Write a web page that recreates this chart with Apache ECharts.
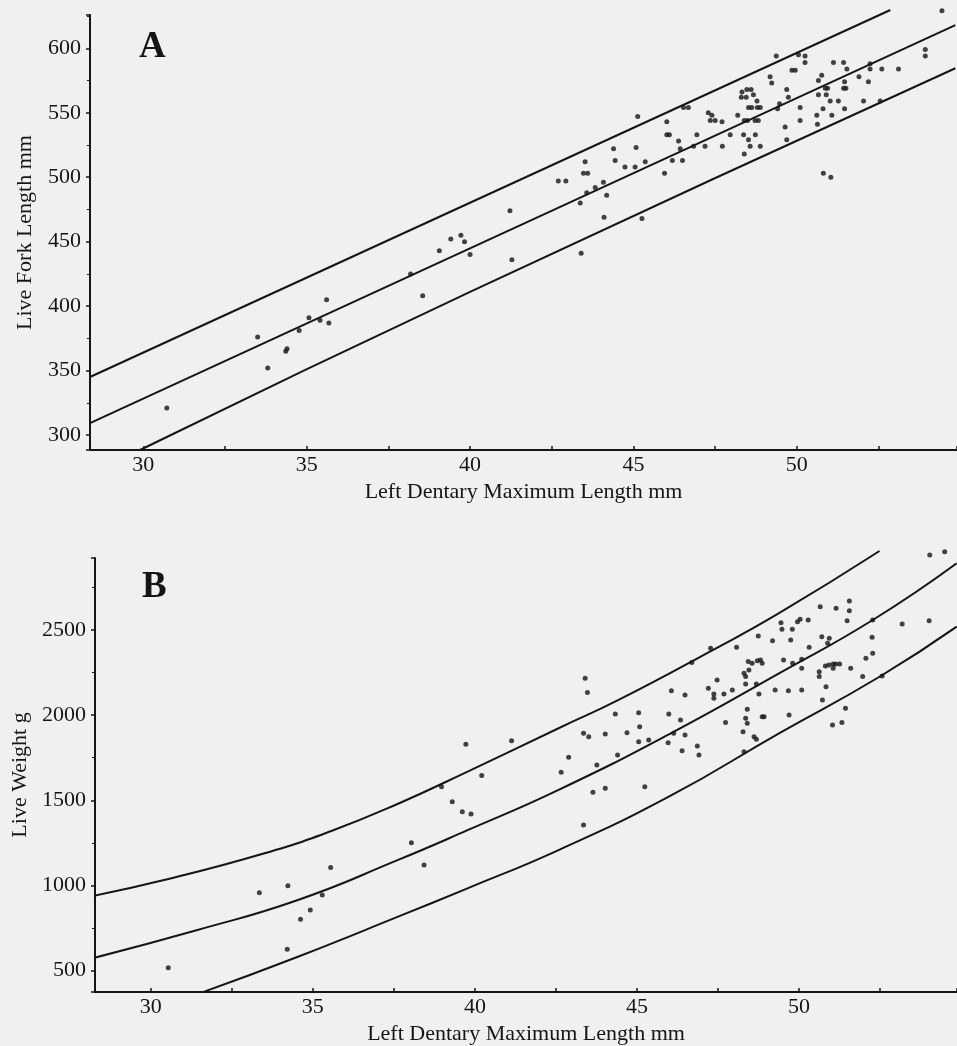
<!DOCTYPE html>
<html>
<head>
<meta charset="utf-8">
<title>Dentary length vs fork length and weight</title>
<script src="https://cdn.jsdelivr.net/npm/echarts@6/dist/echarts.min.js"></script>
<style>
    html, body { margin: 0; padding: 0; background: #eff0f0; }
    #chart { width: 957px; height: 1046px; }
</style>
</head>
<body>
<div id="chart"></div>
<script>
// panel A: dentary length (mm) vs live fork length (mm)
var lengthPoints = [
    [30.72, 321], [33.50, 376], [33.81, 352], [34.36, 365], [34.40, 367], [34.77, 381], [35.07, 391],
    [35.41, 389], [35.61, 405], [35.68, 387], [38.18, 425], [38.55, 408], [39.06, 443], [39.41, 452],
    [39.72, 455], [39.83, 450], [40.00, 440], [41.22, 474], [41.28, 436], [42.70, 497], [42.93, 497],
    [43.37, 480], [43.40, 441], [43.52, 512], [43.47, 503], [43.60, 503], [43.57, 488], [43.83, 492],
    [44.08, 496], [44.18, 486], [44.10, 469], [44.39, 522], [44.44, 513], [44.74, 508], [45.05, 508],
    [45.08, 523], [45.13, 547], [45.36, 512], [45.26, 468], [45.95, 503], [46.02, 543], [46.02, 533],
    [46.10, 533], [46.19, 513], [46.38, 528], [46.43, 522], [46.50, 513], [46.53, 554], [46.68, 554],
    [46.84, 524], [46.94, 533], [47.19, 524], [47.29, 550], [47.40, 548], [47.50, 544], [47.35, 544],
    [47.72, 524], [47.71, 543], [47.96, 533], [48.19, 548], [48.32, 566], [48.47, 568], [48.60, 568],
    [48.30, 562], [48.45, 562], [48.67, 564], [48.78, 559], [48.79, 554], [48.88, 554], [48.52, 554],
    [48.62, 554], [48.39, 544], [48.49, 544], [48.72, 544], [48.82, 544], [48.37, 533], [48.73, 533],
    [48.52, 529], [48.57, 524], [48.88, 524], [48.39, 518], [49.18, 578], [49.23, 573], [49.37, 594],
    [49.41, 553], [49.47, 557], [49.64, 539], [49.69, 568], [49.74, 562], [49.69, 529], [49.85, 583],
    [49.95, 583], [50.05, 595], [50.25, 594], [50.25, 589], [50.10, 554], [50.10, 544], [50.61, 548],
    [50.63, 541], [50.66, 575], [50.66, 564], [50.90, 564], [50.76, 579], [50.80, 553], [50.81, 503],
    [51.04, 500], [50.87, 569], [50.94, 569], [51.02, 559], [51.07, 548], [51.12, 589], [51.27, 559],
    [51.46, 553], [51.43, 589], [51.53, 584], [51.46, 574], [51.43, 569], [51.50, 569], [51.90, 578],
    [52.04, 559], [52.19, 574], [52.24, 588], [52.24, 584], [52.60, 584], [53.11, 584], [52.55, 559],
    [53.93, 599], [53.93, 594], [54.44, 629]
];
var lengthUpper = [[28.37, 345], [52.86, 629.7]];
var lengthFit = [[28.37, 309.3], [54.85, 618]];
var lengthLower = [[29.9, 288.4], [40.0, 411], [54.85, 584.5]];

// panel B: dentary length (mm) vs live weight (g)
var weightPoints = [
    [30.54, 518], [33.35, 958], [34.23, 999], [34.21, 626], [34.62, 802], [34.92, 856], [35.29, 944],
    [35.55, 1105], [38.04, 1251], [38.43, 1120], [38.97, 1580], [39.30, 1492], [39.61, 1433], [39.88, 1420],
    [39.72, 1829], [40.21, 1645], [41.13, 1850], [42.66, 1664], [42.89, 1753], [43.40, 2216], [43.47, 2132],
    [43.35, 1893], [43.51, 1873], [43.35, 1355], [43.64, 1547], [44.02, 1571], [43.76, 1707], [44.02, 1889],
    [44.33, 2007], [44.40, 1766], [44.69, 1897], [45.05, 2014], [45.08, 1932], [45.05, 1844], [45.36, 1854],
    [45.24, 1580], [45.98, 2007], [46.06, 2143], [45.96, 1838], [46.13, 1893], [46.34, 1971], [46.48, 1883],
    [46.48, 2118], [46.39, 1791], [46.91, 1766], [46.86, 1819], [46.69, 2308], [47.27, 2392], [47.47, 2206],
    [47.20, 2157], [47.37, 2124], [47.37, 2099], [47.68, 2124], [47.94, 2147], [47.73, 1956], [48.07, 2398],
    [48.30, 2245], [48.45, 2265], [48.35, 2226], [48.43, 2314], [48.55, 2304], [48.71, 2319], [48.81, 2324],
    [48.86, 2304], [48.35, 2183], [48.68, 2183], [48.74, 2464], [48.76, 2124], [48.40, 2034], [48.35, 1981],
    [48.40, 1952], [48.27, 1903], [48.61, 1873], [48.68, 1858], [48.30, 1785], [48.86, 1991], [48.92, 1991],
    [49.18, 2437], [49.44, 2542], [49.47, 2504], [49.74, 2441], [49.79, 2504], [49.95, 2548], [50.03, 2562],
    [50.28, 2558], [49.26, 2147], [49.67, 2143], [50.08, 2147], [49.52, 2324], [49.80, 2304], [50.08, 2275],
    [50.08, 2328], [49.69, 2001], [50.31, 2398], [50.65, 2636], [50.70, 2460], [50.62, 2255], [50.62, 2226],
    [50.81, 2288], [50.92, 2294], [51.05, 2300], [51.13, 2300], [51.25, 2300], [50.83, 2167], [50.72, 2089],
    [51.05, 2275], [51.14, 2627], [51.55, 2670], [51.55, 2613], [51.48, 2554], [50.88, 2422], [50.93, 2451],
    [51.43, 2040], [51.03, 1942], [51.32, 1956], [51.59, 2275], [51.96, 2226], [52.06, 2334], [52.27, 2363],
    [52.25, 2457], [52.27, 2558], [52.56, 2230], [53.18, 2535], [54.01, 2554], [54.03, 2940], [54.49, 2959]
];
var weightUpper = [[28.20, 938], [30.41, 1032], [33.51, 1189], [35.57, 1320], [37.63, 1480], [39.79, 1670],
    [42.58, 1923], [44.43, 2089], [47.32, 2380], [49.38, 2598], [52.48, 2963]];
var weightFit = [[28.20, 573], [31.44, 739], [34.54, 915], [37.63, 1150], [39.79, 1326], [42.58, 1561],
    [46.14, 1903], [49.38, 2245], [52.27, 2558], [54.86, 2891]];
var weightLower = [[31.65, 377], [34.54, 582], [37.63, 817], [39.79, 985], [42.58, 1208], [45.98, 1521],
    [49.38, 1893], [52.48, 2225], [54.86, 2519]];

var ink = '#151515';
var serif = '"Liberation Serif", "DejaVu Serif", serif';

function plain(v) {
    return String(v);
}

function xAxisFor(gridIndex, min, max) {
    return {
        type: 'value', gridIndex: gridIndex, min: min, max: max,
        name: 'Left Dentary Maximum Length mm', nameLocation: 'middle', nameGap: 31,
        nameTextStyle: { color: ink, fontFamily: serif, fontSize: 22 },
        axisLine: { lineStyle: { color: ink, width: 2 } },
        axisTick: { inside: true, length: 4, lineStyle: { color: ink, width: 1.5 } },
        minorTick: { show: true, splitNumber: 2, length: 4, lineStyle: { color: ink, width: 1.5 } },
        axisLabel: { color: ink, fontFamily: serif, fontSize: 22, margin: 4, formatter: plain,
            showMinLabel: false, showMaxLabel: false },
        splitLine: { show: false }
    };
}

function yAxisFor(gridIndex, min, max, title, gap) {
    return {
        type: 'value', gridIndex: gridIndex, min: min, max: max,
        name: title, nameLocation: 'middle', nameGap: gap,
        nameTextStyle: { color: ink, fontFamily: serif, fontSize: 22 },
        axisLine: { show: true, lineStyle: { color: ink, width: 2 } },
        axisTick: { show: true, length: 4, lineStyle: { color: ink, width: 1.5 } },
        minorTick: { show: true, splitNumber: 2, length: 3, lineStyle: { color: ink, width: 1 } },
        axisLabel: { color: ink, fontFamily: serif, fontSize: 22, margin: 9, formatter: plain,
            showMinLabel: false, showMaxLabel: false },
        splitLine: { show: false }
    };
}

function curve(data, xi) {
    return {
        type: 'line', xAxisIndex: xi, yAxisIndex: xi, data: data,
        smooth: true, symbol: 'none', clip: false,
        lineStyle: { color: ink, width: 2 }
    };
}

function dots(data, xi) {
    return {
        type: 'scatter', xAxisIndex: xi, yAxisIndex: xi, data: data,
        symbolSize: 5, clip: false, itemStyle: { color: ink }
    };
}

var chart = echarts.init(document.getElementById('chart'));
var option = {
    backgroundColor: '#eff0f0',
    animation: false,
    title: [
        { text: 'A', left: 134, top: 24, textStyle: { color: ink, fontFamily: serif, fontSize: 37, fontWeight: 'bold' } },
        { text: 'B', left: 137, top: 564, textStyle: { color: ink, fontFamily: serif, fontSize: 37, fontWeight: 'bold' } }
    ],
    grid: [
        { left: 90, right: 0, top: 15, height: 435 },
        { left: 95, right: 0, top: 558, height: 434 }
    ],
    xAxis: [
        xAxisFor(0, 28.37, 54.9),
        xAxisFor(1, 28.28, 54.87)
    ],
    yAxis: [
        yAxisFor(0, 288.4, 625.8, 'Live Fork Length mm', 54),
        yAxisFor(1, 375, 2922, 'Live Weight g', 63)
    ],
    series: [
        dots(lengthPoints, 0),
        curve(lengthUpper, 0),
        curve(lengthFit, 0),
        curve(lengthLower, 0),
        dots(weightPoints, 1),
        curve(weightUpper, 1),
        curve(weightFit, 1),
        curve(weightLower, 1)
    ]
};
chart.setOption(option);
</script>
</body>
</html>
